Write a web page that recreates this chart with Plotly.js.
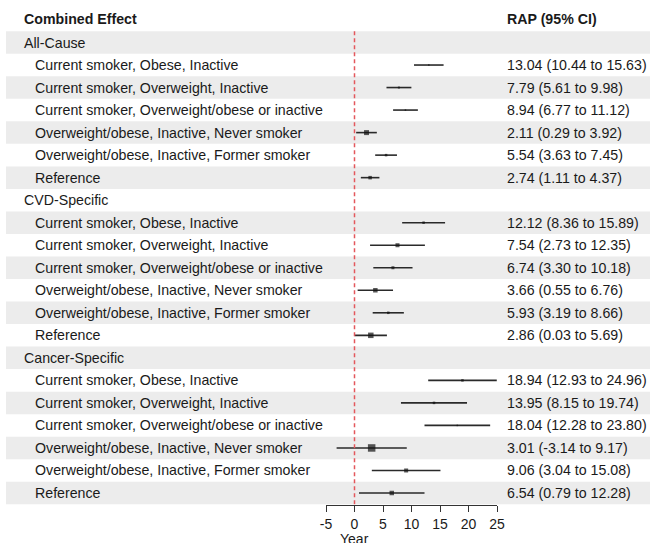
<!DOCTYPE html>
<html>
<head>
<meta charset="utf-8">
<script src="https://cdn.plot.ly/plotly-3.0.1.min.js"></script>
<style>html,body{margin:0;padding:0;background:#fff;}#chart{width:650px;height:543px;}</style>
</head>
<body>
<div id="chart"></div>
<script>
// ---- data ----
const groups = ["All-Cause", "CVD-Specific", "Cancer-Specific"];
const itemLabels = [
  "Current smoker, Obese, Inactive",
  "Current smoker, Overweight, Inactive",
  "Current smoker, Overweight/obese or inactive",
  "Overweight/obese, Inactive, Never smoker",
  "Overweight/obese, Inactive, Former smoker",
  "Reference"
];
const allCauseEst   = [13.04, 7.79, 8.94, 2.11, 5.54, 2.74];
const allCauseLow   = [10.44, 5.61, 6.77, 0.29, 3.63, 1.11];
const allCauseHigh  = [15.63, 9.98, 11.12, 3.92, 7.45, 4.37];
const cvdEst        = [12.12, 7.54, 6.74, 3.66, 5.93, 2.86];
const cvdLow        = [8.36, 2.73, 3.30, 0.55, 3.19, 0.03];
const cvdHigh       = [15.89, 12.35, 10.18, 6.76, 8.66, 5.69];
const cancerEst     = [18.94, 13.95, 18.04, 3.01, 9.06, 6.54];
const cancerLow     = [12.93, 8.15, 12.28, -3.14, 3.04, 0.79];
const cancerHigh    = [24.96, 19.74, 23.80, 9.17, 15.08, 12.28];
// relative weight of each estimate (drawn as box size)
const allCauseWeight = [1.5, 2, 1.5, 5, 2.5, 3.5];
const cvdWeight      = [2.5, 4, 3, 4.5, 2.5, 5.5];
const cancerWeight   = [2.5, 2.5, 1.5, 7.5, 4, 4.5];
const xTicks = [-5, 0, 5, 10, 15, 20, 25];

const estSets = [allCauseEst, cvdEst, cancerEst];
const lowSets = [allCauseLow, cvdLow, cancerLow];
const highSets = [allCauseHigh, cvdHigh, cancerHigh];
const weightSets = [allCauseWeight, cvdWeight, cancerWeight];

const font = "Liberation Sans, Arial, Helvetica, sans-serif";
const txtColor = "#1a1a1a";
const fs = 14.2;
const W = 650;

const xs = [], ys = [], plus = [], minus = [], sizes = [];
const shapes = [], annotations = [];
let row = 0;
function band(r) {
  if (r % 2 === 0) {
    shapes.push({type: "rect", layer: "below", xref: "paper", yref: "y",
      x0: 6 / W, x1: 1, y0: r - 0.5, y1: r + 0.5,
      fillcolor: "#ececec", line: {width: 0}});
  }
}
function label(text, px, r, bold) {
  annotations.push({xref: "paper", yref: "y", x: px / W, y: r,
    xanchor: "left", yanchor: "middle", showarrow: false,
    text: bold ? "<b>" + text + "</b>" : text,
    font: {family: font, size: fs, color: txtColor}});
}
label("Combined Effect", 22, -1.04, true);
label("RAP (95% CI)", 505, -1.04, true);
groups.forEach((g, gi) => {
  band(row);
  label(g, 22, row, false);
  row++;
  itemLabels.forEach((lab, k) => {
    band(row);
    label(lab, 33, row, false);
    const e = estSets[gi][k], lo = lowSets[gi][k], hi = highSets[gi][k];
    label(e.toFixed(2) + " (" + lo.toFixed(2) + " to " + hi.toFixed(2) + ")", 505, row, false);
    xs.push(e); ys.push(row);
    plus.push(hi - e); minus.push(e - lo);
    sizes.push(weightSets[gi][k]);
    row++;
  });
});
const nRows = row;

// reference line at zero
shapes.push({type: "line", xref: "x", yref: "y", x0: 0, x1: 0, y0: -0.5, y1: nRows - 0.5,
  line: {color: "#e4575c", width: 1.5, dash: "4px,3px"}});

annotations.push({xref: "x", yref: "paper", x: 0, y: 1 - 539 / 543,
  xanchor: "center", yanchor: "middle", showarrow: false, text: "Year",
  font: {family: font, size: 14, color: txtColor}});

const trace = {
  type: "scatter", mode: "markers", x: xs, y: ys,
  marker: {symbol: "square", size: sizes, color: "#111", line: {width: 0}},
  error_x: {type: "data", symmetric: false, array: plus, arrayminus: minus,
    width: 0, thickness: 1.6, color: "#2a2a2a"},
  hoverinfo: "skip", cliponaxis: false
};

const rowPx = 22.525, row0 = 42.5, H = 543;
const layout = {
  width: 650, height: 543,
  margin: {l: 0, r: 0, t: 0, b: 0},
  paper_bgcolor: "#ffffff", plot_bgcolor: "rgba(0,0,0,0)",
  showlegend: false,
  xaxis: {
    domain: [326 / W, 497 / W], range: [-5, 25],
    anchor: "free", position: 1 - 505 / H,
    tickvals: xTicks, ticktext: xTicks.map(String),
    showgrid: false, zeroline: false, showline: true,
    linecolor: "#333", linewidth: 1,
    ticks: "outside", ticklen: 6, tickcolor: "#333", tickwidth: 1,
    tickfont: {family: font, size: 14, color: txtColor},
    fixedrange: true
  },
  yaxis: {
    domain: [0, 1], range: [(H - row0) / rowPx, -row0 / rowPx],
    visible: false, showgrid: false, zeroline: false, fixedrange: true
  },
  shapes: shapes,
  annotations: annotations
};

Plotly.newPlot("chart", [trace], layout, {displayModeBar: false, staticPlot: true});
</script>
</body>
</html>
